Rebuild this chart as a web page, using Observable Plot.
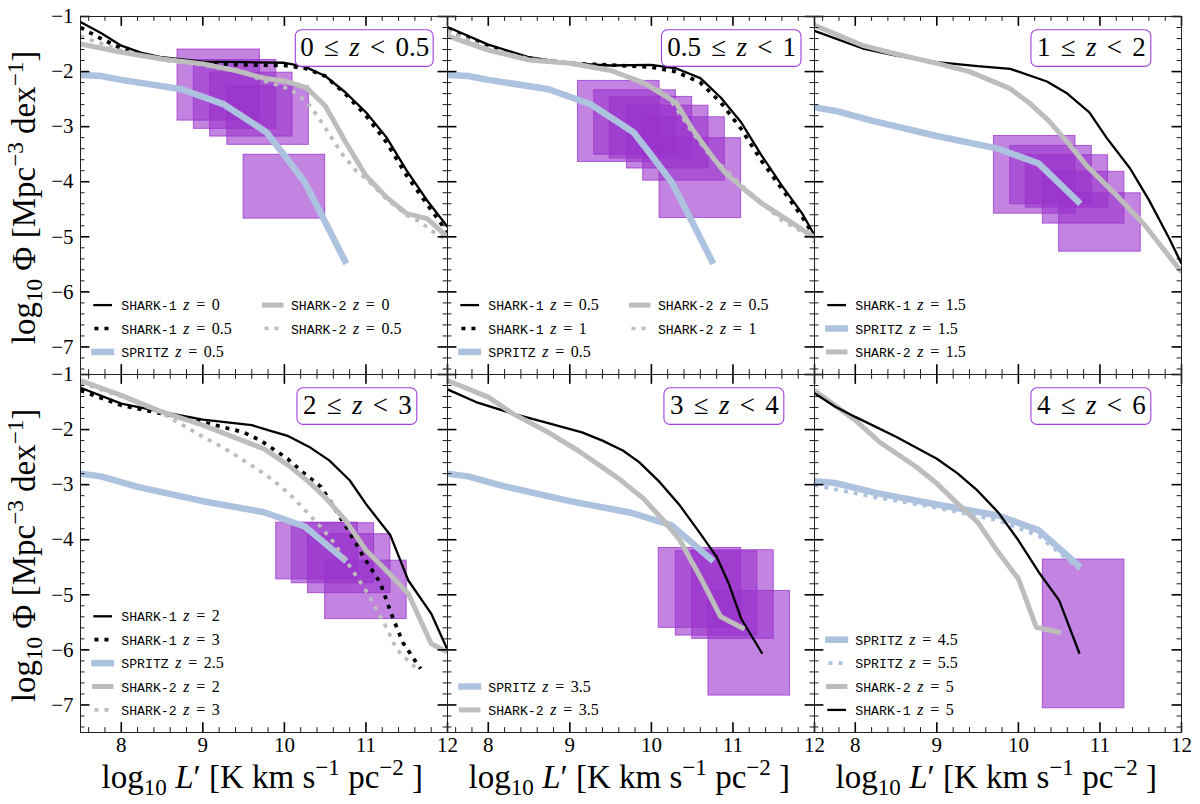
<!DOCTYPE html>
<html><head><meta charset="utf-8">
<script src="https://cdn.jsdelivr.net/npm/d3@7"></script>
<script src="https://cdn.jsdelivr.net/npm/@observablehq/plot@0.6"></script>
<style>html,body{margin:0;padding:0;background:#fff}text{white-space:pre}</style>
</head><body><div id="chart"></div>
<script>
// ---------- tick values ----------
const xMajor = [8, 9, 10, 11, 12];
const yMajor = [-1, -2, -3, -4, -5, -6, -7];
const xMinor = [7.6,7.8,8.2,8.4,8.6,8.8,9.2,9.4,9.6,9.8,10.2,10.4,10.6,10.8,11.2,11.4,11.6,11.8];
const yMinor = d3.range(-7.4, -1, 0.2).map(v => +v.toFixed(1)).filter(v => !Number.isInteger(v));

// ---------- observed boxes [L1, L2, Phi_hi, Phi_lo] ----------
const boxesA = [[8.69,9.70,-1.60,-2.89],[8.89,9.90,-1.79,-3.04],[9.09,10.10,-2.02,-3.18],[9.30,10.30,-2.27,-3.33],[9.50,10.50,-3.51,-4.67]];
const boxesB = [[9.10,10.10,-2.17,-3.64],[9.30,10.30,-2.34,-3.51],[9.49,10.50,-2.46,-3.58],[9.70,10.70,-2.62,-3.76],[9.90,10.90,-2.83,-3.98],[10.10,11.10,-3.21,-4.66]];
const boxesC = [[9.70,10.70,-3.17,-4.58],[9.90,10.90,-3.35,-4.41],[10.09,11.10,-3.52,-4.47],[10.30,11.30,-3.82,-4.76],[10.50,11.50,-4.21,-5.27]];
const boxesD = [[9.90,10.90,-3.69,-4.72],[10.09,11.10,-3.70,-4.79],[10.29,11.30,-3.90,-4.97],[10.50,11.50,-4.38,-5.44]];
const boxesE = [[10.09,11.10,-4.15,-5.60],[10.30,11.30,-4.21,-5.74],[10.50,11.50,-4.19,-5.80],[10.70,11.70,-4.93,-6.83]];
const boxesF = [[10.30,11.30,-4.36,-7.06]];

// ---------- model curves ----------
const a_shark1_z0 = [[7.5,-1.1],[7.75,-1.3],[8,-1.53],[8.25,-1.66],[8.5,-1.74],[9,-1.82],[9.5,-1.83],[10,-1.84],[10.25,-1.91],[10.5,-2.08],[10.75,-2.38],[11,-2.74],[11.25,-3.19],[11.5,-3.8],[11.75,-4.34],[12,-4.82]];
const a_shark1_z05 = [[7.5,-1.2],[7.75,-1.4],[8,-1.58],[8.25,-1.7],[8.5,-1.77],[9,-1.85],[9.5,-1.88],[10,-1.89],[10.25,-1.94],[10.5,-2.08],[10.75,-2.41],[11,-2.80],[11.25,-3.28],[11.5,-3.89],[11.75,-4.41],[12,-4.92]];
const a_shark2_z0 = [[7.5,-1.5],[8,-1.65],[8.5,-1.77],[9,-1.86],[9.4,-1.98],[9.75,-2.12],[10,-2.17],[10.27,-2.29],[10.5,-2.62],[10.75,-3.28],[11,-3.89],[11.25,-4.28],[11.5,-4.58],[11.75,-4.67],[12,-5.0]];
const a_shark2_z05 = [[7.5,-1.36],[8,-1.62],[8.5,-1.79],[9,-1.88],[9.5,-2.01],[9.71,-2.15],[10.07,-2.32],[10.28,-2.56],[10.43,-2.86],[10.57,-3.18],[10.71,-3.5],[10.88,-3.8],[10.98,-3.92],[11.08,-4.06],[11.25,-4.31],[11.5,-4.61],[11.67,-4.73],[11.8,-4.89],[12,-5.06]];
const spritz_z05 = [[7.5,-2.06],[7.75,-2.08],[8,-2.15],[8.74,-2.32],[9.25,-2.59],[9.78,-3.1],[10,-3.52],[10.25,-4.01],[10.49,-4.7],[10.76,-5.49]];

const b_shark1_z05 = [[7.5,-1.19],[8,-1.51],[8.5,-1.74],[9,-1.85],[9.5,-1.89],[10,-1.88],[10.3,-1.94],[10.6,-2.12],[10.85,-2.47],[11.1,-2.92],[11.35,-3.52],[11.6,-4.07],[11.85,-4.58],[12,-4.97]];
const b_shark1_z1 = [[7.5,-1.25],[8,-1.55],[8.5,-1.76],[9,-1.85],[9.5,-1.88],[10,-1.92],[10.3,-2.0],[10.6,-2.2],[10.85,-2.56],[11.1,-3.04],[11.35,-3.62],[11.6,-4.13],[11.85,-4.64],[12,-5.0]];
const b_shark2_z05 = [[7.5,-1.35],[8,-1.61],[8.5,-1.79],[9,-1.85],[9.5,-1.98],[9.9,-2.2],[10.3,-2.56],[10.5,-3.04],[10.75,-3.55],[10.9,-3.83],[11.1,-4.09],[11.35,-4.39],[11.6,-4.63],[11.85,-4.87],[12,-5.01]];
const b_shark2_z1 = [[7.5,-1.26],[8,-1.59],[8.5,-1.77],[9,-1.84],[9.5,-1.96],[9.9,-2.23],[10.15,-2.35],[10.3,-2.66],[10.5,-3.1],[10.75,-3.58],[10.9,-3.76],[11.1,-4.06],[11.6,-4.7],[11.85,-4.91],[12,-5.09]];

const c_shark1 = [[7.5,-1.26],[8.11,-1.59],[8.5,-1.71],[9,-1.83],[9.5,-1.9],[9.9,-1.95],[10.35,-2.18],[10.6,-2.4],[10.87,-2.74],[11.08,-3.2],[11.37,-3.76],[11.6,-4.33],[11.85,-5.03],[12,-5.49]];
const c_shark2 = [[7.5,-1.16],[8.1,-1.53],[8.5,-1.68],[9,-1.85],[9.4,-2.0],[9.9,-2.31],[10.15,-2.59],[10.37,-2.89],[10.6,-3.28],[10.85,-3.73],[11.2,-4.24],[11.55,-4.79],[12,-5.64]];
const c_spritz = [[7.5,-2.65],[7.75,-2.71],[8.2,-2.89],[9,-3.17],[9.75,-3.4],[10.25,-3.67],[10.76,-4.4]];

const d_shark1_z2 = [[7.5,-1.24],[8,-1.53],[8.5,-1.68],[9,-1.82],[9.6,-1.92],[9.8,-2.01],[10.05,-2.12],[10.3,-2.31],[10.55,-2.56],[10.8,-2.92],[11,-3.35],[11.3,-3.92],[11.52,-4.74],[11.8,-5.34],[12,-6.0]];
const d_shark1_z3 = [[7.5,-1.29],[8,-1.56],[8.5,-1.71],[9,-1.86],[9.5,-2.05],[9.71,-2.2],[9.92,-2.41],[10.04,-2.53],[10.22,-2.77],[10.45,-3.04],[10.78,-3.82],[10.97,-4.31],[11.11,-4.63],[11.18,-4.8],[11.31,-5.34],[11.45,-5.86],[11.6,-6.19],[11.67,-6.34]];
const d_shark2_z2 = [[7.5,-1.11],[8,-1.38],[8.5,-1.68],[9,-1.92],[9.75,-2.35],[10.05,-2.65],[10.3,-2.95],[10.5,-3.23],[10.75,-3.65],[11,-4.19],[11.25,-4.56],[11.52,-4.98],[11.8,-5.89],[12,-6.04]];
const d_shark2_z3 = [[7.5,-1.15],[8,-1.4],[8.5,-1.7],[8.8,-1.96],[9,-2.13],[9.24,-2.32],[9.46,-2.52],[9.67,-2.72],[9.88,-2.94],[10.07,-3.18],[10.25,-3.46],[10.43,-3.74],[10.59,-4.02],[10.81,-4.5],[11.02,-4.97],[11.14,-5.3],[11.27,-5.65],[11.37,-5.98],[11.47,-6.13],[11.56,-6.25],[11.62,-6.34]];
const d_spritz = [[7.5,-2.8],[7.75,-2.85],[8.2,-3.04],[9,-3.3],[9.75,-3.5],[10.25,-3.76],[10.76,-4.39]];

const e_shark1 = [[7.5,-1.27],[7.85,-1.5],[8.3,-1.71],[8.7,-1.87],[9.15,-2.05],[9.4,-2.2],[9.65,-2.38],[9.85,-2.59],[10.1,-2.95],[10.35,-3.38],[10.6,-3.89],[10.8,-4.31],[10.95,-4.8],[11.1,-5.43],[11.36,-6.07]];
const e_shark2 = [[7.5,-1.11],[8,-1.41],[8.3,-1.71],[8.7,-2.02],[9.1,-2.38],[9.6,-2.89],[9.9,-3.25],[10.15,-3.65],[10.35,-4.01],[10.6,-4.68],[10.85,-5.4],[11.14,-5.62]];
const e_spritz = [[7.5,-2.8],[7.75,-2.85],[8.2,-3.03],[9,-3.3],[9.75,-3.51],[10.25,-3.74],[10.76,-4.39]];

const f_shark1 = [[7.5,-1.34],[7.75,-1.58],[8,-1.77],[8.5,-2.13],[9,-2.53],[9.25,-2.79],[9.5,-3.11],[9.75,-3.5],[10,-4.01],[10.25,-4.59],[10.5,-5.1],[10.75,-6.07]];
const f_shark2 = [[7.5,-1.29],[8,-1.83],[8.3,-2.23],[8.75,-2.68],[9,-2.98],[9.25,-3.34],[9.5,-3.68],[9.75,-4.22],[10,-4.71],[10.22,-5.59],[10.52,-5.69]];
const f_spritz_z45 = [[7.5,-2.94],[7.75,-2.97],[8.25,-3.15],[9,-3.36],[9.75,-3.56],[10.25,-3.83],[10.76,-4.5]];
const f_spritz_z55 = [[7.5,-3.01],[8.25,-3.23],[9,-3.42],[9.75,-3.65],[10.25,-3.93],[10.75,-4.54]];

// ---------- panel contents ----------
const panels = [
  {fx:0, fy:0, title:"0 ≤ *z* < 0.5", boxes:boxesA,
   curves:[["shark1",a_shark1_z0],["shark1dot",a_shark1_z05],["spritz",spritz_z05],["shark2",a_shark2_z0],["shark2dot",a_shark2_z05]],
   legend:[[0,2,"shark1","~SHARK-1~ *z* = 0"],[0,3,"shark1dot","~SHARK-1~ *z* = 0.5"],[0,4,"spritz","~SPRITZ~ *z* = 0.5"],[1,2,"shark2","~SHARK-2~ *z* = 0"],[1,3,"shark2dot","~SHARK-2~ *z* = 0.5"]]},
  {fx:1, fy:0, title:"0.5 ≤ *z* < 1", boxes:boxesB,
   curves:[["shark1",b_shark1_z05],["shark1dot",b_shark1_z1],["spritz",spritz_z05],["shark2",b_shark2_z05],["shark2dot",b_shark2_z1]],
   legend:[[0,2,"shark1","~SHARK-1~ *z* = 0.5"],[0,3,"shark1dot","~SHARK-1~ *z* = 1"],[0,4,"spritz","~SPRITZ~ *z* = 0.5"],[1,2,"shark2","~SHARK-2~ *z* = 0.5"],[1,3,"shark2dot","~SHARK-2~ *z* = 1"]]},
  {fx:2, fy:0, title:"1 ≤ *z* < 2", boxes:boxesC,
   curves:[["shark1",c_shark1],["spritz",c_spritz],["shark2",c_shark2]],
   legend:[[0,2,"shark1","~SHARK-1~ *z* = 1.5"],[0,3,"spritz","~SPRITZ~ *z* = 1.5"],[0,4,"shark2","~SHARK-2~ *z* = 1.5"]]},
  {fx:0, fy:1, title:"2 ≤ *z* < 3", boxes:boxesD,
   curves:[["shark1",d_shark1_z2],["shark1dot",d_shark1_z3],["spritz",d_spritz],["shark2",d_shark2_z2],["shark2dot",d_shark2_z3]],
   legend:[[0,0,"shark1","~SHARK-1~ *z* = 2"],[0,1,"shark1dot","~SHARK-1~ *z* = 3"],[0,2,"spritz","~SPRITZ~ *z* = 2.5"],[0,3,"shark2","~SHARK-2~ *z* = 2"],[0,4,"shark2dot","~SHARK-2~ *z* = 3"]]},
  {fx:1, fy:1, title:"3 ≤ *z* < 4", boxes:boxesE,
   curves:[["shark1",e_shark1],["spritz",e_spritz],["shark2",e_shark2]],
   legend:[[0,3,"spritz","~SPRITZ~ *z* = 3.5"],[0,4,"shark2","~SHARK-2~ *z* = 3.5"]]},
  {fx:2, fy:1, title:"4 ≤ *z* < 6", boxes:boxesF,
   curves:[["spritz",f_spritz_z45],["spritzdot",f_spritz_z55],["shark2",f_shark2],["shark1",f_shark1]],
   legend:[[0,1,"spritz","~SPRITZ~ *z* = 4.5"],[0,2,"spritzdot","~SPRITZ~ *z* = 5.5"],[0,3,"shark2","~SHARK-2~ *z* = 5"],[0,4,"shark1","~SHARK-1~ *z* = 5"]]}
];

// ---------- styles & layout ----------
const BLUE = "#adc2df", GRAY = "#bdbdbd", PURPLE = "#9932cc";
const DOT = "4,6";
const styles = {
  shark1:    {stroke:"#000", strokeWidth:2.3},
  shark1dot: {stroke:"#000", strokeWidth:3.7, strokeDasharray:DOT},
  spritz:    {stroke:BLUE,   strokeWidth:6.5},
  spritzdot: {stroke:BLUE,   strokeWidth:3.7, strokeDasharray:DOT},
  shark2:    {stroke:GRAY,   strokeWidth:5},
  shark2dot: {stroke:GRAY,   strokeWidth:3.7, strokeDasharray:DOT}
};
const M = {left:79, right:18.3, top:15.7, bottom:72};
const W = (1200 - M.left - M.right) / 3, H = (804 - M.top - M.bottom) / 2;
const rowY = [-5.39, -5.815, -6.24, -6.665, -7.09];           // legend rows, in Phi units
const colX = [[7.671, 7.873, 8.0], [9.756, 9.958, 10.08]];    // sample start, sample end, label start
const titleBoxes = [[10.14,11.83],[10.13,11.84],[10.16,11.63],[10.16,11.63],[10.16,11.63],[10.16,11.63]];
const titleY = [-1.25, -1.915];
const YLABEL = "log_{10} Φ [Mpc^{−3} dex^{−1}]";
const XLABEL = "log_{10} *L*′ [K km s^{−1} pc^{−2} ]";

const marks = [];
panels.forEach(p => {
  const {fx, fy} = p;
  marks.push(Plot.rect(p.boxes.map(([x1,x2,y2,y1]) => ({x1,x2,y1,y2,fx,fy})),
    {x1:"x1", x2:"x2", y1:"y1", y2:"y2", fx:"fx", fy:"fy", fill:PURPLE, fillOpacity:0.6, stroke:PURPLE, strokeOpacity:0.75, strokeWidth:1}));
});
panels.forEach(p => {
  const {fx, fy} = p;
  p.curves.forEach(([key, pts]) => {
    marks.push(Plot.line(pts.map(([x,y]) => ({x,y,fx,fy})),
      {x:"x", y:"y", fx:"fx", fy:"fy", clip:"frame", strokeLinecap:"butt", strokeLinejoin:"miter", ...styles[key]}));
  });
});
// ticks on all four sides
[[xMajor, yMajor, 10, 1.6], [xMinor, yMinor, 5, 0.9]].forEach(([xs, ys, len, sw]) => {
  marks.push(Plot.ruleX(xs, {x:d=>d, insetTop:H-len, stroke:"#000", strokeWidth:sw}));
  marks.push(Plot.ruleX(xs, {x:d=>d, insetBottom:H-len, stroke:"#000", strokeWidth:sw}));
  marks.push(Plot.ruleY(ys, {y:d=>d, insetRight:W-len, stroke:"#000", strokeWidth:sw}));
  marks.push(Plot.ruleY(ys, {y:d=>d, insetLeft:W-len, stroke:"#000", strokeWidth:sw}));
});
marks.push(Plot.frame({stroke:"#222", strokeWidth:1}));
// legends
panels.forEach(p => {
  const {fx, fy} = p;
  p.legend.forEach(([c, r, key, label]) => {
    const [a, b, t] = colX[c];
    const dashed = key.endsWith("dot");
    marks.push(Plot.line([{x:a,y:rowY[r],fx,fy},{x:b,y:rowY[r],fx,fy}],
      {x:"x", y:"y", fx:"fx", fy:"fy", strokeLinecap: dashed ? "butt" : "square", ...styles[key]}));
    marks.push(Plot.text([{x:t,y:rowY[r],fx,fy,label}],
      {x:"x", y:"y", fx:"fx", fy:"fy", text:"label", textAnchor:"start", fontSize:16, fill:"#000"}));
  });
});
// title boxes
panels.forEach((p, i) => {
  const {fx, fy} = p;
  const [x1, x2] = titleBoxes[i];
  marks.push(Plot.rect([{x1,x2,y1:titleY[1],y2:titleY[0],fx,fy}],
    {x1:"x1", x2:"x2", y1:"y1", y2:"y2", fx:"fx", fy:"fy", fill:"#fff", fillOpacity:0.9, stroke:"#a040e0", strokeWidth:1.1, rx:6}));
  marks.push(Plot.text([{x:(x1+x2)/2, y:(titleY[0]+titleY[1])/2 + 0.02, fx, fy, t:p.title}],
    {x:"x", y:"y", fx:"fx", fy:"fy", text:"t", fontSize:27, fill:"#000"}));
});
// axis labels
marks.push(Plot.axisX({ticks:xMajor, tickSize:0, tickPadding:5, fontSize:21, label:null, tickFormat:d=>String(d)}));
marks.push(Plot.axisY({ticks:yMajor, tickSize:0, tickPadding:7, fontSize:21, label:null, tickFormat:d=>"−"+Math.abs(d)}));
[0,1,2].forEach(fx => marks.push(Plot.text([{x:9.73, fx, fy:1, t:XLABEL}],
  {x:"x", fx:"fx", fy:"fy", text:"t", frameAnchor:"bottom", dy:55, fontSize:33, fill:"#000"})));
[0,1].forEach(fy => marks.push(Plot.text([{y:-4.285, fx:0, fy, t:YLABEL}],
  {y:"y", fx:"fx", fy:"fy", text:"t", frameAnchor:"left", textAnchor:"middle", dx:-56, rotate:-90, fontSize:33, fill:"#000"})));

const chart = Plot.plot({
  width:1200, height:804,
  marginLeft:M.left, marginRight:M.right, marginTop:M.top, marginBottom:M.bottom,
  style:{fontFamily:"'Liberation Serif', serif", background:"#fff"},
  x:{domain:[7.5,12], label:null},
  y:{domain:[-7.5,-1], label:null},
  fx:{domain:[0,1,2], padding:0, axis:null, label:null},
  fy:{domain:[0,1], padding:0, axis:null, label:null},
  marks
});
document.getElementById("chart").appendChild(chart);

// small markup renderer: _{sub} ^{sup} *italic* ~mono~ become real tspans
d3.select(chart).selectAll("text").each(function() {
  const s = this.textContent;
  if (!/[_^*~]/.test(s)) return;
  const base = parseFloat(getComputedStyle(this).fontSize);
  this.textContent = "";
  if (s.includes("~")) this.setAttribute("word-spacing", 2.6);
  if (s.includes("≤")) this.setAttribute("word-spacing", 3.5);
  let shift = 0;
  const NS = "http://www.w3.org/2000/svg";
  for (const m of s.matchAll(/_\{([^}]*)\}|\^\{([^}]*)\}|\*([^*]*)\*|~([^~]*)~|([^_^*~]+)/g)) {
    const t = document.createElementNS(NS, "tspan");
    let target = 0;
    if (m[1] !== undefined) { t.textContent = m[1]; t.setAttribute("font-size", base*0.7); target = base*0.22; }
    else if (m[2] !== undefined) { t.textContent = m[2]; t.setAttribute("font-size", base*0.7); target = -base*0.38; }
    else if (m[3] !== undefined) { t.textContent = m[3]; t.setAttribute("font-style", "italic"); }
    else if (m[4] !== undefined) { t.textContent = m[4]; t.setAttribute("font-family", "'Liberation Mono', monospace"); t.setAttribute("font-size", 13.2); }
    else { t.textContent = m[5]; }
    if (target !== shift) { t.setAttribute("dy", target - shift); shift = target; }
    this.appendChild(t);
  }
});
</script></body></html>
